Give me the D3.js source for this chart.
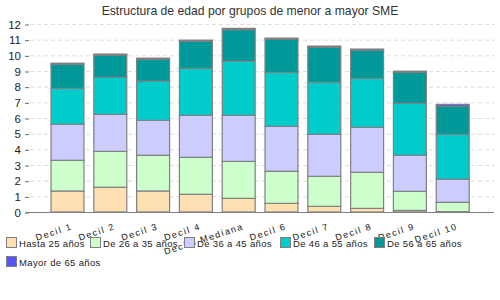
<!DOCTYPE html>
<html>
<head>
<meta charset="utf-8">
<script src="https://cdn.jsdelivr.net/npm/d3@7"></script>
<style>
  body { margin: 0; background: #fff; }
  text { font-family: "Liberation Sans", Arial, sans-serif; }
</style>
</head>
<body>
<div id="chart"></div>
<script>
// CATEGORIES AND SERIES
const categories = ["Decil 1", "Decil 2", "Decil 3", "Decil 4", "Decil5 Mediana",
  "Decil 6", "Decil 7", "Decil 8", "Decil 9", "Decil 10"];
const seriesNames = ["Hasta 25 años", "De 26 a 35 años", "De 36 a 45 años",
  "De 46 a 55 años", "De 56 a 65 años", "Mayor de 65 años"];

const hasta25 = [1.34, 1.58, 1.34, 1.13, 0.87, 0.55, 0.36, 0.23, 0.10, 0.02];
const de26a35 = [1.96, 2.29, 2.28, 2.36, 2.36, 2.05, 1.92, 2.30, 1.22, 0.60];
const de36a45 = [2.30, 2.36, 2.23, 2.68, 2.94, 2.87, 2.68, 2.87, 2.30, 1.47];
const de46a55 = [2.29, 2.36, 2.51, 3.00, 3.45, 3.44, 3.32, 3.13, 3.32, 2.87];
const de56a65 = [1.53, 1.41, 1.38, 1.72, 2.02, 2.11, 2.23, 1.79, 1.97, 1.79];
const mayor65 = [0.08, 0.08, 0.08, 0.08, 0.08, 0.08, 0.08, 0.08, 0.08, 0.12];

const yTicks = [0, 1, 2, 3, 4, 5, 6, 7, 8, 9, 10, 11, 12];
const colors = ["#ffe0b3", "#ccffcc", "#ccccff", "#00cccc", "#009999", "#5555ff"];

const w = 500;
const h = 300;

// BUILD TABLE FOR THE STACK
const allSeries = [hasta25, de26a35, de36a45, de46a55, de56a65, mayor65];
const table = categories.map((c, i) => {
  const row = { cat: c };
  seriesNames.forEach((s, j) => row[s] = allSeries[j][i]);
  return row;
});
const stacked = d3.stack().keys(seriesNames)(table);

// SCALES
const xScale = d3.scaleBand()
  .domain(categories)
  .range([45.6, 473.6])
  .paddingInner(0.23)
  .paddingOuter(0.115);

const yScale = d3.scaleLinear()
  .domain([0, 12])
  .range([212, 24]);

const svg = d3.select("#chart")
  .append("svg")
  .attr("width", w)
  .attr("height", h);

// TITLE
svg.append("text")
  .attr("x", 250)
  .attr("y", 15)
  .attr("text-anchor", "middle")
  .style("font-size", "12.2px")
  .style("fill", "#333")
  .text("Estructura de edad por grupos de menor a mayor SME");

// GRID LINES
svg.append("g")
  .selectAll("line")
  .data(yTicks.slice(1))
  .enter()
  .append("line")
  .attr("x1", 30)
  .attr("x2", 495)
  .attr("y1", (d) => yScale(d) + 0.5)
  .attr("y2", (d) => yScale(d) + 0.5)
  .style("stroke", "#dddddd")
  .style("stroke-dasharray", "4,3");

// Y AXIS (ticks and labels, no domain line)
const yAxis = d3.axisLeft(yScale)
  .tickValues(yTicks)
  .tickSize(4)
  .tickPadding(4);

const yG = svg.append("g")
  .attr("transform", "translate(29,0.5)")
  .call(yAxis);
yG.select(".domain").remove();
yG.selectAll(".tick line").style("stroke", "#666");
yG.selectAll(".tick text")
  .style("font-family", "'Liberation Sans', Arial, sans-serif")
  .style("font-size", "11.5px")
  .style("fill", "#222");

// BARS
svg.append("g")
  .selectAll("g")
  .data(stacked)
  .enter()
  .append("g")
  .style("fill", (d, i) => colors[i])
  .selectAll("rect")
  .data((d) => d)
  .enter()
  .append("rect")
  .attr("x", (d) => xScale(d.data.cat) + 0.5)
  .attr("y", (d) => yScale(d[1]))
  .attr("width", xScale.bandwidth())
  .attr("height", (d) => yScale(d[0]) - yScale(d[1]))
  .style("stroke", "#808080")
  .style("stroke-width", 1.2);

// X AXIS LINE
svg.append("line")
  .attr("x1", 25)
  .attr("x2", 494)
  .attr("y1", yScale(0) + 0.5)
  .attr("y2", yScale(0) + 0.5)
  .style("stroke", "#808080")
  .style("stroke-width", 1.2);

// X LABELS, ROTATED
svg.append("g")
  .selectAll("text")
  .data(categories)
  .enter()
  .append("text")
  .attr("text-anchor", "end")
  .attr("transform", (d) => "translate(" + (xScale(d) + xScale.bandwidth() / 2 + 6) + ",229) rotate(-18)")
  .style("font-size", "9px")
  .style("letter-spacing", "1.5px")
  .style("fill", "#111")
  .text((d) => d);

// LEGEND
const legendPos = [[6, 237], [90, 237], [184, 237], [280, 237], [374, 237], [6, 256]];
const legend = svg.append("g")
  .selectAll("g")
  .data(seriesNames)
  .enter()
  .append("g")
  .attr("transform", (d, i) => "translate(" + legendPos[i][0] + "," + legendPos[i][1] + ")");

legend.append("rect")
  .attr("x", 0.5)
  .attr("y", 0.5)
  .attr("width", 10)
  .attr("height", 10)
  .style("fill", (d, i) => colors[i])
  .style("stroke", "#808080");

legend.append("text")
  .attr("x", 13)
  .attr("y", 9.5)
  .style("font-size", "9.5px")
  .style("letter-spacing", "0.35px")
  .style("fill", "#222")
  .text((d) => d);
</script>
</body>
</html>
